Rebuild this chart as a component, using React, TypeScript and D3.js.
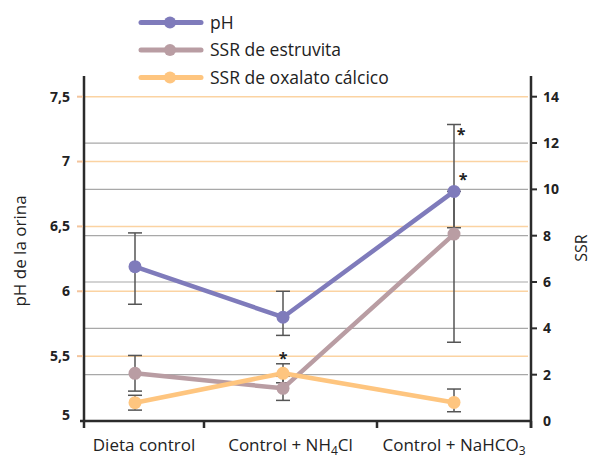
import React from "react";
import * as d3 from "d3";

const categories = ["Dieta control", "Control + NH4Cl", "Control + NaHCO3"];
const phValues = [6.19, 5.8, 6.77];
const phLow = [5.9, 5.66, 6.49];
const phHigh = [6.45, 6.0, 6.77];
const struviteValues = [2.06, 1.41, 8.07];
const struviteLow = [1.29, 0.89, 3.4];
const struviteHigh = [2.83, 1.93, 12.8];
const oxalateValues = [0.79, 2.06, 0.8];
const oxalateLow = [0.47, 1.65, 0.4];
const oxalateHigh = [1.11, 2.47, 1.38];
const phTicks = [5, 5.5, 6, 6.5, 7, 7.5];
const ssrTicks = [0, 2, 4, 6, 8, 10, 12, 14];
const legendLabels = ["pH", "SSR de estruvita", "SSR de oxalato cálcico"];
// significance markers: [category index, series]
const stars: [number, string][] = [
  [1, "oxalate"],
  [2, "struvite"],
  [2, "ph"],
];

const W = 592;
const H = 459;
const FONT = "'Open Sans', 'Noto Sans', sans-serif";
const C_PH = "#7f7bbb";
const C_STR = "#b99da3";
const C_OX = "#fec57f";
const C_AX = "#2b2b2b";
const C_ERR = "#555555";

export default function App() {
  document.body.style.margin = "0";
  const left = 84;
  const right = 531;
  const bottom = 421;
  const top = 76;

  const yPh = d3.scaleLinear().domain([5, 7.5]).range([bottom, 96.7]);
  const ySsr = d3.scaleLinear().domain([0, 14]).range([bottom, 96.7]);
  const x = d3
    .scaleLinear()
    .domain([-0.5, 0, 0.5, 1, 1.5, 2, 2.5])
    .range([left, 135, 204, 283, 377, 454, right]);

  const idx = categories.map((_, i) => i);
  const lineGen = (ys: number[], y: d3.ScaleLinear<number, number>) =>
    d3
      .line<number>()
      .x((i) => x(i))
      .y((i) => y(ys[i]))(idx) as string;

  const series = [
    { key: "struvite", v: struviteValues, lo: struviteLow, hi: struviteHigh, y: ySsr, c: C_STR },
    { key: "oxalate", v: oxalateValues, lo: oxalateLow, hi: oxalateHigh, y: ySsr, c: C_OX },
    { key: "ph", v: phValues, lo: phLow, hi: phHigh, y: yPh, c: C_PH },
  ];

  const labelParts = (s: string) => {
    const m = s.match(/^(.*?)(NH)(4)(Cl)$|^(.*?)(NaHCO)(3)$/);
    if (!m) return <tspan>{s}</tspan>;
    if (m[2]) {
      return (
        <>
          <tspan>{m[1] + m[2]}</tspan>
          <tspan fontSize="12" dy="4">{m[3]}</tspan>
          <tspan dy="-4">{m[4]}</tspan>
        </>
      );
    }
    return (
      <>
        <tspan>{m[5] + m[6]}</tspan>
        <tspan fontSize="12" dy="4">{m[7]}</tspan>
      </>
    );
  };

  const seps = [-0.5, 0.5, 1.5, 2.5];

  return (
    <svg width={W} height={H} style={{ position: "absolute", left: 0, top: 0, background: "#fff" }} fontFamily={FONT}>
      {/* grid lines */}
      {ssrTicks.filter((t) => t > 0 && t < 14).map((t) => (
        <line key={"g" + t} x1={left} x2={right - 3} y1={ySsr(t)} y2={ySsr(t)} stroke="#a8a8a8" strokeWidth={1.2} />
      ))}
      {phTicks.filter((t) => t > 5).map((t) => (
        <line key={"o" + t} x1={left} x2={right - 3} y1={yPh(t)} y2={yPh(t)} stroke="#fbd3a2" strokeWidth={1.5} />
      ))}

      {/* axes */}
      <line x1={left} x2={left} y1={top} y2={bottom} stroke={C_AX} strokeWidth={2.5} />
      <line x1={right} x2={right} y1={top} y2={bottom + 7} stroke={C_AX} strokeWidth={2.5} />
      <line x1={left - 4} x2={right} y1={bottom} y2={bottom} stroke={C_AX} strokeWidth={2.5} />
      {seps.map((s) => (
        <line key={"s" + s} x1={x(s)} x2={x(s)} y1={bottom} y2={bottom + 7} stroke={C_AX} strokeWidth={2.5} />
      ))}
      {phTicks.filter((t) => t > 5).map((t) => (
        <line key={"lt" + t} x1={left - 7} x2={left - 1} y1={yPh(t)} y2={yPh(t)} stroke="#f3c49c" strokeWidth={2} />
      ))}
      {phTicks.map((t) => (
        <text key={"lt" + t} x={70} y={yPh(t) - (t === 5 ? 6 : 0)} dy="0.35em" textAnchor="end" fontSize={14} fontWeight="bold" fill="#222">
          {String(t).replace(".", ",")}
        </text>
      ))}
      {ssrTicks.map((t) => (
        <g key={"rt" + t}>
          {t > 0 && <line x1={right} x2={right + 6} y1={ySsr(t)} y2={ySsr(t)} stroke={C_AX} strokeWidth={2} />}
          <text x={543} y={ySsr(t)} dy="0.35em" textAnchor="start" fontSize={14} fontWeight="bold" fill="#222">
            {t}
          </text>
        </g>
      ))}

      {/* axis titles */}
      <text transform={`translate(26,251) rotate(-90)`} textAnchor="middle" fontSize={17} fill="#222">
        pH de la orina
      </text>
      <text transform={`translate(587,248) rotate(-90)`} textAnchor="middle" fontSize={16} fill="#222">
        SSR
      </text>

      {/* category labels */}
      {categories.map((c, i) => (
        <text key={c} x={(x(i - 0.5) + x(i + 0.5)) / 2} y={451} textAnchor="middle" fontSize={17} fill="#222">
          {labelParts(c)}
        </text>
      ))}

      {/* error bars */}
      {series.map((s) =>
        idx.map((i) => (
          <g key={s.key + "e" + i} stroke={C_ERR} strokeWidth={1.5}>
            <line x1={x(i)} x2={x(i)} y1={s.y(s.hi[i])} y2={s.y(s.lo[i])} />
            <line x1={x(i) - 7} x2={x(i) + 7} y1={s.y(s.hi[i])} y2={s.y(s.hi[i])} />
            <line x1={x(i) - 7} x2={x(i) + 7} y1={s.y(s.lo[i])} y2={s.y(s.lo[i])} />
          </g>
        ))
      )}

      {/* lines & markers */}
      {series.map((s) => (
        <g key={s.key}>
          <path d={lineGen(s.v, s.y)} fill="none" stroke={s.c} strokeWidth={4.5} strokeLinejoin="round" />
          {idx.map((i) => (
            <circle key={i} cx={x(i)} cy={s.y(s.v[i])} r={6.5} fill={s.c} />
          ))}
        </g>
      ))}

      {/* significance stars */}
      {stars.map(([i, k], j) => {
        const s = series.find((d) => d.key === k)!;
        let px = x(i);
        let py = s.y(s.hi[i]) - 11;
        if (k === "struvite") {
          px = x(i) + 7;
          py = s.y(s.hi[i]) + 4;
        }
        if (k === "ph") {
          px = x(i) + 9;
          py = s.y(s.v[i]) - 18;
        }
        return (
          <text key={"st" + j} x={px} y={py} dy="0.7em" textAnchor="middle" fontSize={16} fontWeight="bold" fill="#222">
            *
          </text>
        );
      })}

      {/* legend */}
      {legendLabels.map((l, i) => {
        const c = [C_PH, C_STR, C_OX][i];
        const ly = 22.5 + i * 27.5;
        return (
          <g key={l}>
            <line x1={141} x2={201} y1={ly} y2={ly} stroke={c} strokeWidth={5} strokeLinecap="round" />
            <circle cx={170} cy={ly} r={6} fill={c} />
            <text x={210} y={ly} dy="0.35em" fontSize={17.5} fill="#222">
              {l}
            </text>
          </g>
        );
      })}
    </svg>
  );
}
